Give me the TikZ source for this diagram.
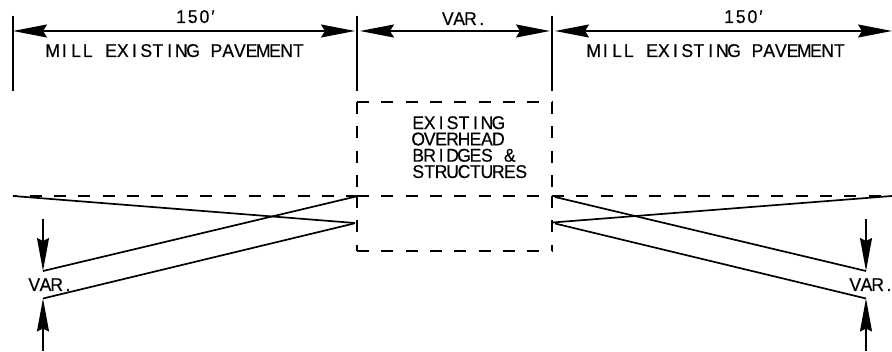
\documentclass[tikz,border=0pt]{standalone}
\usepackage{fontspec}
\setmainfont[FakeStretch=0.95,FakeBold=0.4]{Liberation Sans}
\usetikzlibrary{arrows.meta}
\newcommand\cadpitch{11.7pt}
\makeatletter
\def\cad#1{\cad@w#1 \@nil}
\def\cad@w#1 #2\@nil{\@tfor\cad@c:=#1\do{\makebox[\cadpitch]{\cad@c}}%
  \ifx\relax#2\relax\else\makebox[\cadpitch]{ }\cad@w#2\@nil\fi}
\makeatother
\tikzset{
  x=1pt,y=-1pt,
  ink/.style={line width=1.7pt,black},
  dashline/.style={ink,dash pattern=on 12pt off 12.35pt},
  barb/.tip={Stealth[length=34pt,width=13pt,inset=4pt]},
  slim/.tip={Stealth[length=33pt,width=12pt,inset=3pt]},
  dimline/.style={ink,barb-barb},
  varline/.style={ink,-slim},
  label/.style={inner sep=0pt,anchor=base west,font=\fontsize{18.5}{16.3}\selectfont},
}
\begin{document}
\begin{tikzpicture}
\useasboundingbox (0,0) rectangle (892,352);
% key positions
\coordinate (t1a) at (12.8,16); \coordinate (t1b) at (12.8,91);
\coordinate (t2a) at (357,16);  \coordinate (t2b) at (357,91);
\coordinate (t3a) at (552,16);  \coordinate (t3b) at (552,91);
% ticks
\draw[ink] (t1a) -- (t1b);
\draw[ink] (t2a) -- (t2b);
\draw[ink] (t3a) -- (t3b);
% dimension arrows
\coordinate (d1) at (13,31); \coordinate (d2) at (355,31);
\coordinate (d3) at (360,31); \coordinate (d4) at (550,31);
\coordinate (d5) at (555,31); \coordinate (d6) at (892,31);
\draw[dimline] (d1) -- (d2);
\draw[dimline] (d3) -- (d4);
\draw[dimline] (d5) -- (d6);
% dimension labels
\node[label] (w1) at (175,23) {\cad{150}\kern1pt ′};
\node[label] (w2) at (442,25) {\renewcommand\cadpitch{11.3pt}\cad{VAR.}};
\node[label] (w3) at (723,23) {\cad{150}\kern1pt ′};
\node[label] (m1) at (46.6,57) {\cad{MILL EXISTING PAVEMENT}};
\node[label] (m2) at (587.6,57) {\cad{MILL EXISTING PAVEMENT}};
% dashed structure box
\coordinate (bTL) at (357,102); \coordinate (bTR) at (552,102);
\coordinate (bML) at (357,196); \coordinate (bMR) at (552,196);
\coordinate (bBL) at (357,251); \coordinate (bBR) at (552,251);
\coordinate (bUL) at (357,190); \coordinate (bUR) at (552,190);
\draw[dashline] (bTL) -- (bTR);
\draw[dashline] (bBL) -- (bBR);
\draw[dashline] (bTL) -- (bUL);
\draw[dashline] (bTR) -- (bUR);
\draw[dashline] (bML) -- (bBL);
\draw[dashline] (bMR) -- (bBR);
\node[label,align=left,anchor=base west] (b) at (412.3,178)
  {\renewcommand\cadpitch{11.45pt}\cad{EXISTING}\\\renewcommand\cadpitch{11.45pt}\cad{OVERHEAD}\\\renewcommand\cadpitch{11.45pt}\cad{BRIDGES \&}\\\renewcommand\cadpitch{11.45pt}\cad{STRUCTURES}};
% pavement dashed line
\coordinate (pL) at (13,196); \coordinate (pR) at (892,196);
\draw[ink,dash pattern=on 12pt off 12.35pt,dash phase=7.7pt] (pL) -- (bML);
\draw[dashline] (bML) -- (bMR);
\draw[dashline] (bMR) -- (pR);
% left taper
\coordinate (l1) at (355,223); \coordinate (l2) at (43,271);
\coordinate (l3) at (356,196.5); \coordinate (l4) at (43,298.5);
\coordinate (l5) at (354,223.5);
\draw[ink] (pL) -- (l1);
\draw[ink] (l2) -- (l3);
\draw[ink] (l4) -- (l5);
% right taper
\coordinate (r1) at (552.5,222.5); \coordinate (r2) at (866,271);
\coordinate (r3) at (555,197); \coordinate (r4) at (866,298.5);
\coordinate (r5) at (555,223.5);
\draw[ink] (pR) -- (r1);
\draw[ink] (r3) -- (r2);
\draw[ink] (r5) -- (r4);
% VAR arrows
\coordinate (la) at (43,219); \coordinate (lb) at (43,351);
\coordinate (ra) at (866,219); \coordinate (rb) at (866,351);
\draw[varline] (la) -- (l2);
\draw[varline] (lb) -- (l4);
\draw[varline] (ra) -- (r2);
\draw[varline] (rb) -- (r4);
\node[label] (v1) at (28.5,291) {\renewcommand\cadpitch{11.2pt}\cad{VAR.}};
\node[label] (v2) at (849.5,291) {\renewcommand\cadpitch{11.2pt}\cad{VAR.}};
\end{tikzpicture}
\end{document}
